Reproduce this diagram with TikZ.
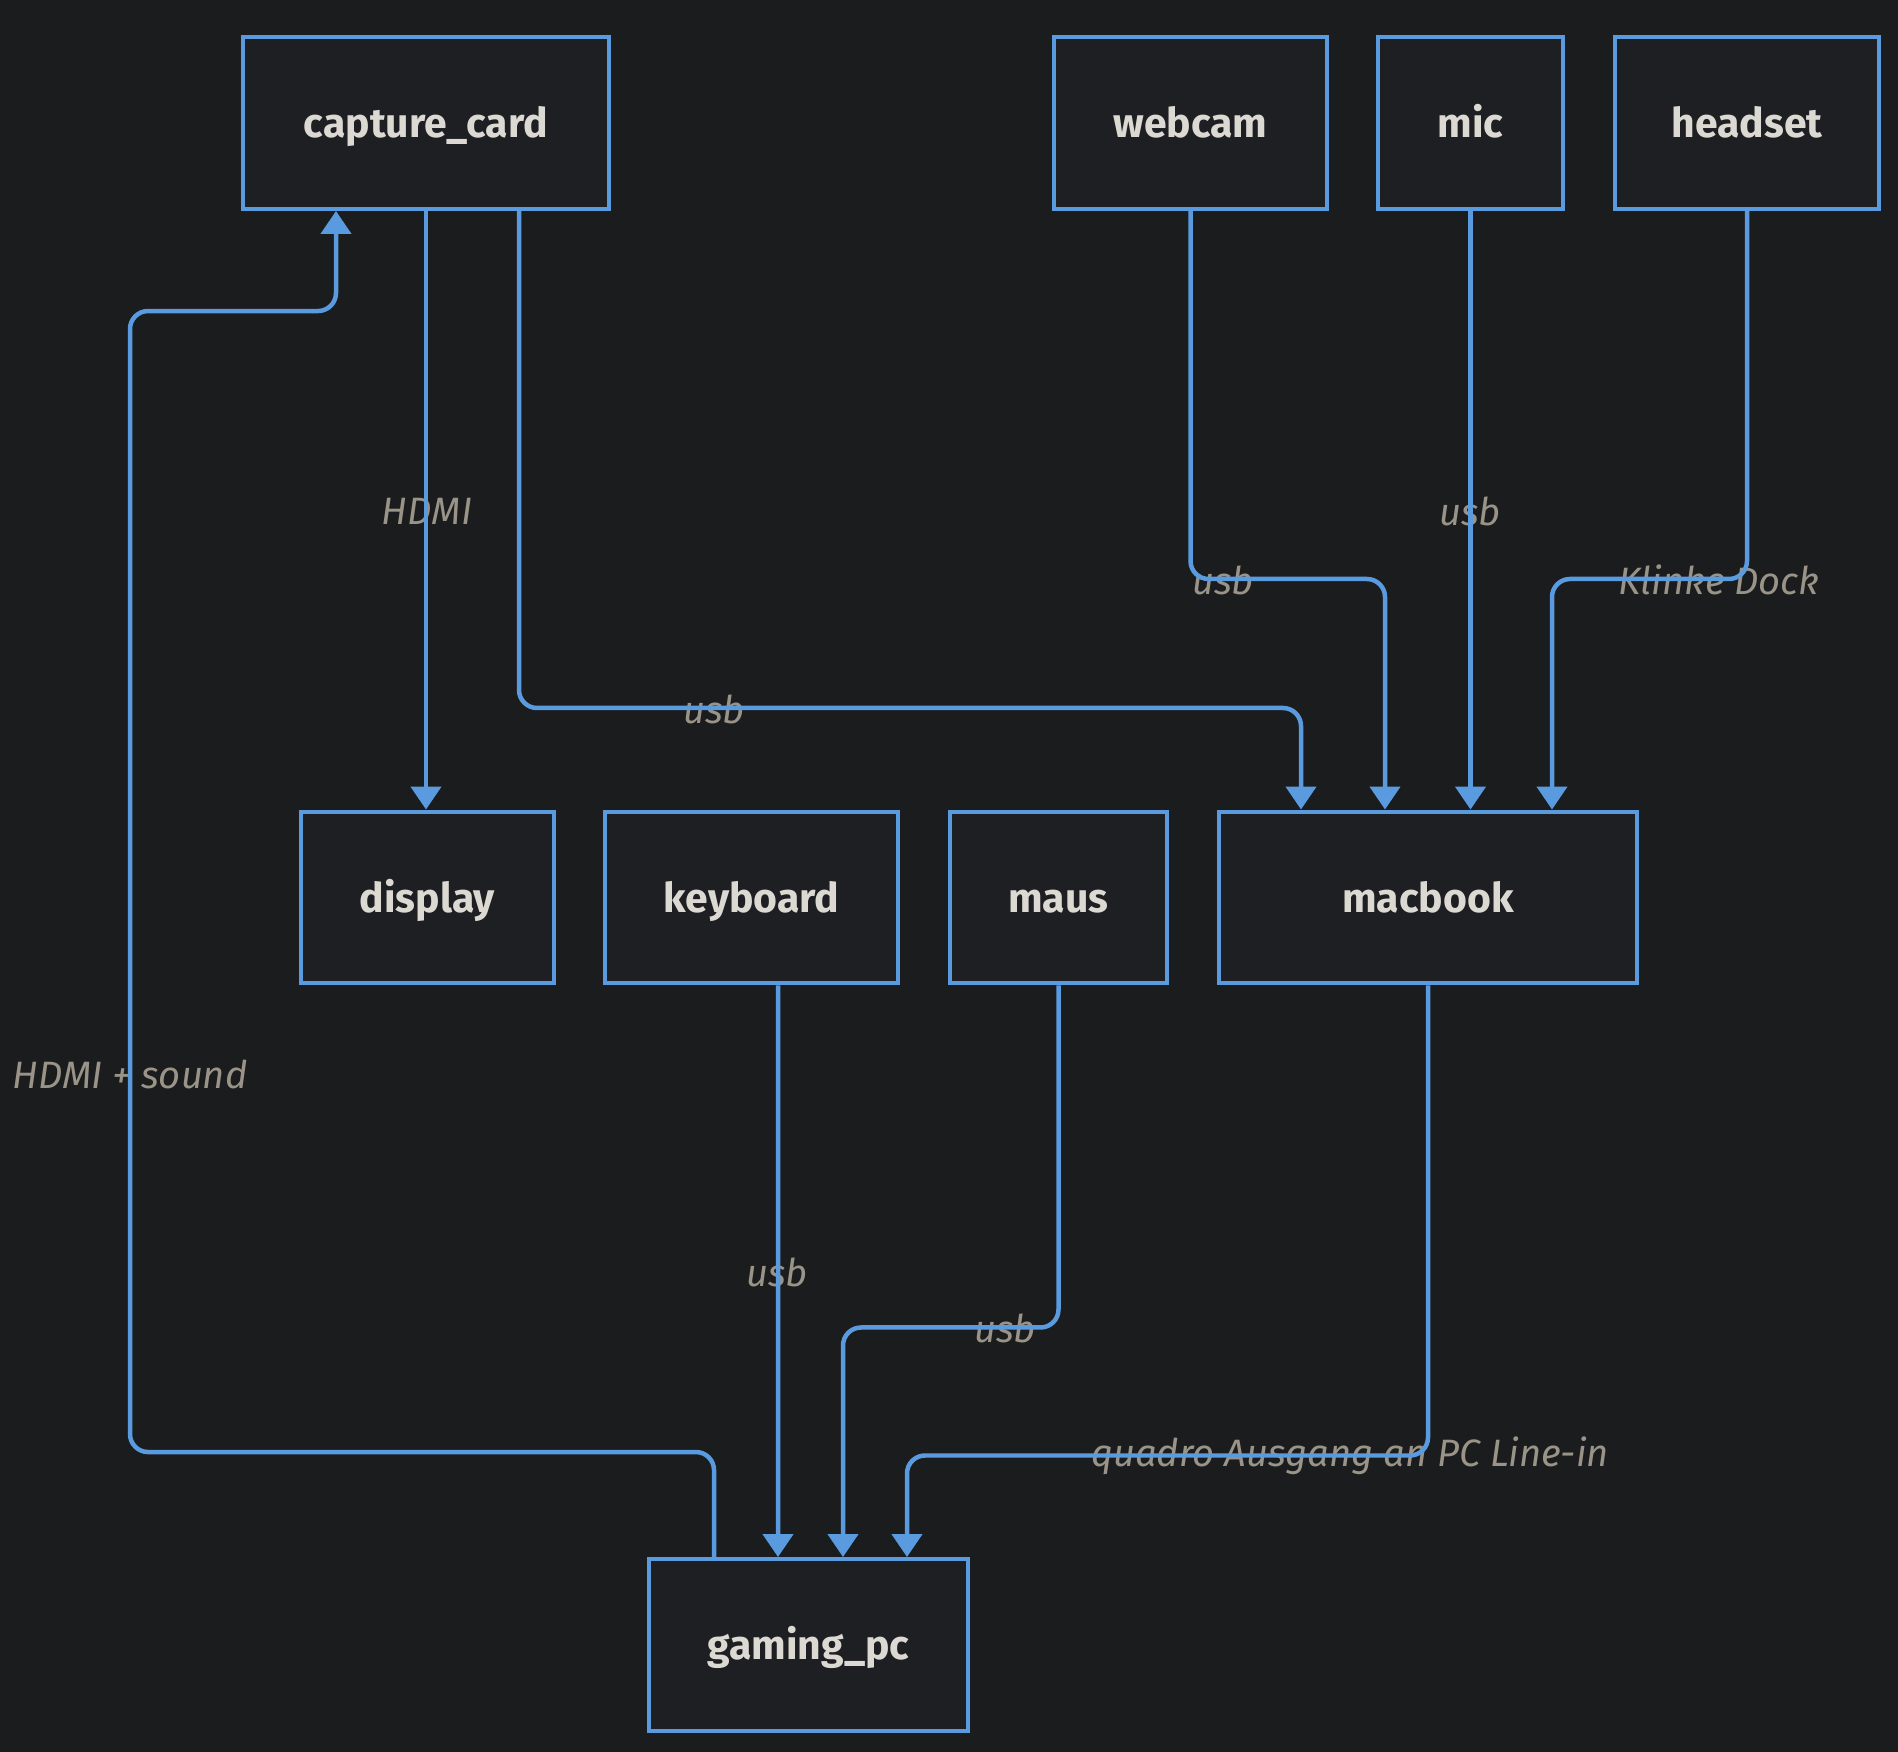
\documentclass[tikz,border=0pt]{standalone}
\usepackage{fontspec}
\setmainfont{Fira Sans}
\usetikzlibrary{arrows.meta,calc}
\definecolor{bgdark}{HTML}{1B1C1E}
\definecolor{boxfill}{HTML}{1E1F22}
\definecolor{edgeblue}{HTML}{5A9BE0}
\definecolor{boxtext}{HTML}{DCD9D3}
\definecolor{lbltext}{HTML}{9A9488}
\begin{document}
\begin{tikzpicture}[x=0.02cm,y=-0.02cm]
  \tikzset{box/.style={draw=edgeblue,fill=boxfill,line width=0.08cm,minimum height=3.44cm,inner sep=0pt,text=boxtext,text height=20pt,text depth=3pt,font=\fontsize{23.3}{27}\selectfont\bfseries},
    link/.style={draw=edgeblue,line width=0.09cm,rounded corners=0.36cm,-{Triangle[width=0.6cm,length=0.46cm]}},
    lbl/.style={text=lbltext,inner sep=0pt,font=\fontsize{21.7}{26}\selectfont\itshape}}
  \fill[bgdark] (0,0) rectangle (1898,1752);
  \useasboundingbox (0,0) rectangle (1898,1752);

  % top row
  \node[box,minimum width=7.32cm] (capture) at (426,123) {capture\_card};
  \node[box,minimum width=5.46cm] (webcam) at (1190.5,123) {webcam};
  \node[box,minimum width=3.7cm] (mic) at (1470.5,123) {mic};
  \node[box,minimum width=5.28cm] (headset) at (1747,123) {headset};

  % middle row
  \node[box,minimum width=5.06cm] (display) at (427.5,897.5) {display};
  \node[box,minimum width=5.86cm] (keyboard) at (751.5,897.5) {keyboard};
  \node[box,minimum width=4.34cm] (maus) at (1058.5,897.5) {maus};
  \node[box,minimum width=8.36cm] (macbook) at (1428,897.5) {macbook};

  % bottom
  \node[box,minimum width=6.38cm] (gaming) at (808.5,1645) {gaming\_pc};

  % labels
  \node[lbl] (l-hdmisound) at (130,1074) {HDMI + sound};
  \node[lbl] (l-hdmi) at (427,511) {HDMI};
  \node[lbl] (l-capusb) at (714,709) {usb};
  \node[lbl] (l-webusb) at (1223,580) {usb};
  \node[lbl] (l-micusb) at (1470,511) {usb};
  \node[lbl] (l-klinke) at (1719,580) {Klinke Dock};
  \node[lbl] (l-keyusb) at (777,1272) {usb};
  \node[lbl] (l-maususb) at (1005,1328) {usb};
  \node[lbl] (l-quadro) at (1350,1456) {quadro Ausgang an PC Line-in};

  % connections
  \draw[link] ($(gaming.north)+(-94.5,0)$) -- ++(0,-105) -- ++(-584,0) -- ++(0,-1141) -| ($(capture.south)+(-90,0)$);
  \draw[link] (capture.south) -- (capture.south |- display.north);
  \draw[link] ($(capture.south)+(93,0)$) -- ++(0,497) -| ($(macbook.north)+(-127,0)$);
  \draw[link] (webcam.south) -- ++(0,368) -| ($(macbook.north)+(-43,0)$);
  \draw[link] (mic.south) -- (mic.south |- macbook.north);
  \draw[link] (headset.south) -- ++(0,368) -| ($(macbook.north)+(124,0)$);
  \draw[link] ($(keyboard.south)+(26.5,0)$) -- ($(gaming.north)+(-30.5,0)$);
  \draw[link] (maus.south) -- ++(0,342) -| ($(gaming.north)+(34.5,0)$);
  \draw[link] (macbook.south) -- ++(0,470) -| ($(gaming.north)+(98.5,0)$);
\end{tikzpicture}
\end{document}
